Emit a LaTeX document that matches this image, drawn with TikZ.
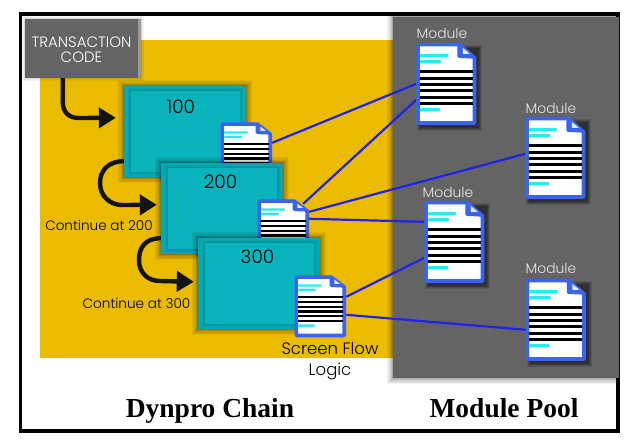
\documentclass[tikz,border=0pt]{standalone}
\usepackage{fontspec}
\setmainfont{Liberation Serif}
\newfontfamily\lightfont{Poppins Light}
\usetikzlibrary{arrows.meta,calc}
\definecolor{yel}{HTML}{EBBB00}
\definecolor{pool}{HTML}{646464}
\definecolor{tealout}{HTML}{06A7B0}
\definecolor{tealin}{HTML}{0AB4BC}
\definecolor{docblue}{HTML}{3A63EE}
\definecolor{wireblue}{HTML}{2222EE}
\definecolor{barcyan}{HTML}{22EEEE}
\tikzset{
  glow/.style={preaction={draw=black,opacity=.05,line width=12pt},
               preaction={draw=black,opacity=.06,line width=9.5pt},
               preaction={draw=black,opacity=.08,line width=7pt},
               preaction={draw=black,opacity=.10,line width=4.5pt},
               preaction={draw=black,opacity=.12,line width=2.5pt}},
  softglow/.style={preaction={draw=black,opacity=.04,line width=6pt},
               preaction={draw=black,opacity=.05,line width=4pt},
               preaction={draw=black,opacity=.06,line width=2pt}},
  faintglow/.style={preaction={draw=black,opacity=.02,line width=6pt},
               preaction={draw=black,opacity=.03,line width=4pt},
               preaction={draw=black,opacity=.04,line width=2pt}},
  tealouter/.style={rectangle,inner sep=0pt,fill=tealout,glow,minimum width=122pt,minimum height=91pt},
  tealinner/.style={rectangle,inner sep=0pt,fill=tealin,faintglow,minimum width=109pt,minimum height=81pt},
  docbox/.style={rectangle,inner sep=0pt},
  smalldoc/.style={docbox,minimum width=51pt,minimum height=61pt},
  bigdoc/.style={docbox,minimum width=60pt,minimum height=82pt},
  wire/.style={draw=wireblue,line width=2.2pt},
  flow/.style={draw=black!92,line width=4.4pt,-{Triangle[length=17pt,width=20pt]}},
  numlabel/.style={font=\lightfont\fontsize{18.5}{20}\selectfont,text=black,inner sep=0pt,anchor=base},
  modlabel/.style={font=\lightfont\fontsize{13.9}{16}\selectfont,text=white!90!black,inner sep=0pt,anchor=base},
  contlabel/.style={font=\lightfont\fontsize{13.6}{16}\selectfont,text=black,inner sep=0pt,anchor=base},
  sflabel/.style={font=\lightfont\fontsize{16.5}{18}\selectfont,text=black,inner sep=0pt,anchor=base},
  title/.style={font=\bfseries\fontsize{27.5}{30}\selectfont,text=black,inner sep=0pt,anchor=base},
  tcbox/.style={rectangle,inner sep=0pt,fill=pool,minimum width=116pt,minimum height=59pt,softglow},
  tclabel/.style={font=\lightfont\fontsize{15}{16}\selectfont,text=white,align=center,inner sep=0pt},
  docshadow/.pic={
    \fill[black,opacity=.10] (1,2) rectangle (66,88);
    \fill[black,opacity=.14] (2,3) rectangle (65,87);
    \fill[black,opacity=.18] (3,4) rectangle (64,86);
    \fill[black,opacity=.22] (4,5) rectangle (63,85);
  },
  docicon/.pic={
    \filldraw[draw=docblue,fill=white,line width=3.6pt,line join=round]
      (1.8,1.8) -- (43,1.8) -- (58.2,15) -- (58.2,80.2) -- (1.8,80.2) -- cycle;
    \fill[docblue,rounded corners=1.5pt] (41,1) -- (41,15) -- (60,16) -- (44,1) -- cycle;
    \fill[white!85!docblue] (46.5,5) -- (53.5,11) -- (46.5,11) -- cycle;
    \foreach \yy/\xx in {13/32,19/25,67/24}
      \fill[barcyan,rounded corners=1pt] (3.5,\yy-1.6) rectangle (\xx,\yy+1.6);
    \foreach \yy in {29,35.5,42,48,54.5,61}
      \fill[black] (3.5,\yy-1.4) rectangle (56.5,\yy+1.4);
  }
}
\begin{document}
\begin{tikzpicture}[x=1pt,y=-1pt]
\useasboundingbox (0,0) rectangle (635,447);
% position holders for the documents
\node[smalldoc] (d1) at (246.5,153.5) {};
\node[smalldoc] (d2) at (283.5,230.5) {};
\node[smalldoc] (d3) at (320.5,306.5) {};
\node[bigdoc] (m1) at (446.5,84) {};
\node[bigdoc] (m2) at (555.5,158) {};
\node[bigdoc] (m3) at (454.5,242) {};
\node[bigdoc] (m4) at (556,320) {};
% frame and panels
\draw[black,line width=3.5pt] (20.5,14) rectangle (618,431);
\fill[yel] (40,40) rectangle (395,358);
\begin{scope}
\clip (380,16) rectangle (619,392);
\path[fill=pool,glow] (393,17) rectangle (625,378);
\end{scope}
% connectors
\draw[wire] ($(d1.north east)+(0,20)$) -- ($(m1.north west)+(0,41)$);
\draw[wire] ($(d2.north east)+(-6,4)$) -- ($(m1.north west)+(0,57)$);
\draw[wire] ($(d2.north east)+(0,12)$) -- ($(m2.north west)+(0,37)$);
\draw[wire] ($(d2.north east)+(0,19)$) -- ($(m3.north west)+(0,21)$);
\draw[wire] ($(d3.north east)+(0,21)$) -- ($(m3.north west)+(0,57)$);
\draw[wire] ($(d3.north east)+(0,39)$) -- ($(m4.north west)+(0,51)$);
% transaction code
\node[tcbox] (tc) at (83,48.5) {};
\fill[white,opacity=.35] ($(tc.north east)+(-3,0)$) rectangle (tc.south east);
\node[tclabel] (tct) at (81.5,49.5) {TRANSACTION\\[-1pt]CODE};
% dynpro 100
\node[tealouter] (b1) at (185,131.5) {};
\node[tealinner] (i1) at (185,131.5) {};
\node[numlabel] (l1) at (181,113) {100};
\pic[xscale=.85,yscale=.744] at (d1.north west) {docicon};
% dynpro 200
\node[tealouter] (b2) at (222,208.5) {};
\node[tealinner] (i2) at (222,208.5) {};
\node[numlabel] (l2) at (220.5,188) {200};
\pic[xscale=.85,yscale=.744] at (d2.north west) {docicon};
% dynpro 300
\node[tealouter] (b3) at (259,283.5) {};
\node[tealinner] (i3) at (259,283.5) {};
\node[numlabel] (l3) at (257.5,263) {300};
\pic[xscale=.85,yscale=.744] at (d3.north west) {docicon};
% modules
\foreach \m in {m1,m2,m3,m4} {
  \pic at (\m.north west) {docshadow};
  \pic at (\m.north west) {docicon};
}
% flow arrows
\coordinate (a1s) at ($(tc.south west)+(38,0)$);
\coordinate (a1e) at ($(b1.north west)+(-8,32)$);
\draw[flow] (a1s) -- ++(0,24) .. controls +(0,10) and +(-10,0) .. (79,118) -- (a1e);
\coordinate (a2s) at ($(b1.south west)+(0,-16)$);
\coordinate (a2e) at ($(b2.north west)+(-4,42)$);
\draw[flow] (a2s) .. controls +(-16,0) and +(0,-12) .. (100,183) .. controls +(0,13) and +(-12,0) .. (122,205) -- (a2e);
\coordinate (a3s) at ($(b2.south west)+(0,-16)$);
\coordinate (a3e) at ($(b3.north west)+(-4,44)$);
\draw[flow] (a3s) .. controls +(-16,0) and +(0,-12) .. (139,260) .. controls +(0,13) and +(-12,0) .. (160,281) -- (a3e);
% labels
\node[contlabel] (c2) at (99,230) {Continue at 200};
\node[contlabel] (c3) at (136.5,308) {Continue at 300};
\node[sflabel] (sf) at (330,354) {Screen Flow};
\node[sflabel] (lg) at (330,375) {Logic};
\node[modlabel] (t1) at (442,38) {Module};
\node[modlabel] (t2) at (551,113) {Module};
\node[modlabel] (t3) at (448,197) {Module};
\node[modlabel] (t4) at (551,273) {Module};
\node[title] (dc) at (210,417) {Dynpro Chain};
\node[title] (mp) at (504,417) {Module Pool};
\end{tikzpicture}
\end{document}
